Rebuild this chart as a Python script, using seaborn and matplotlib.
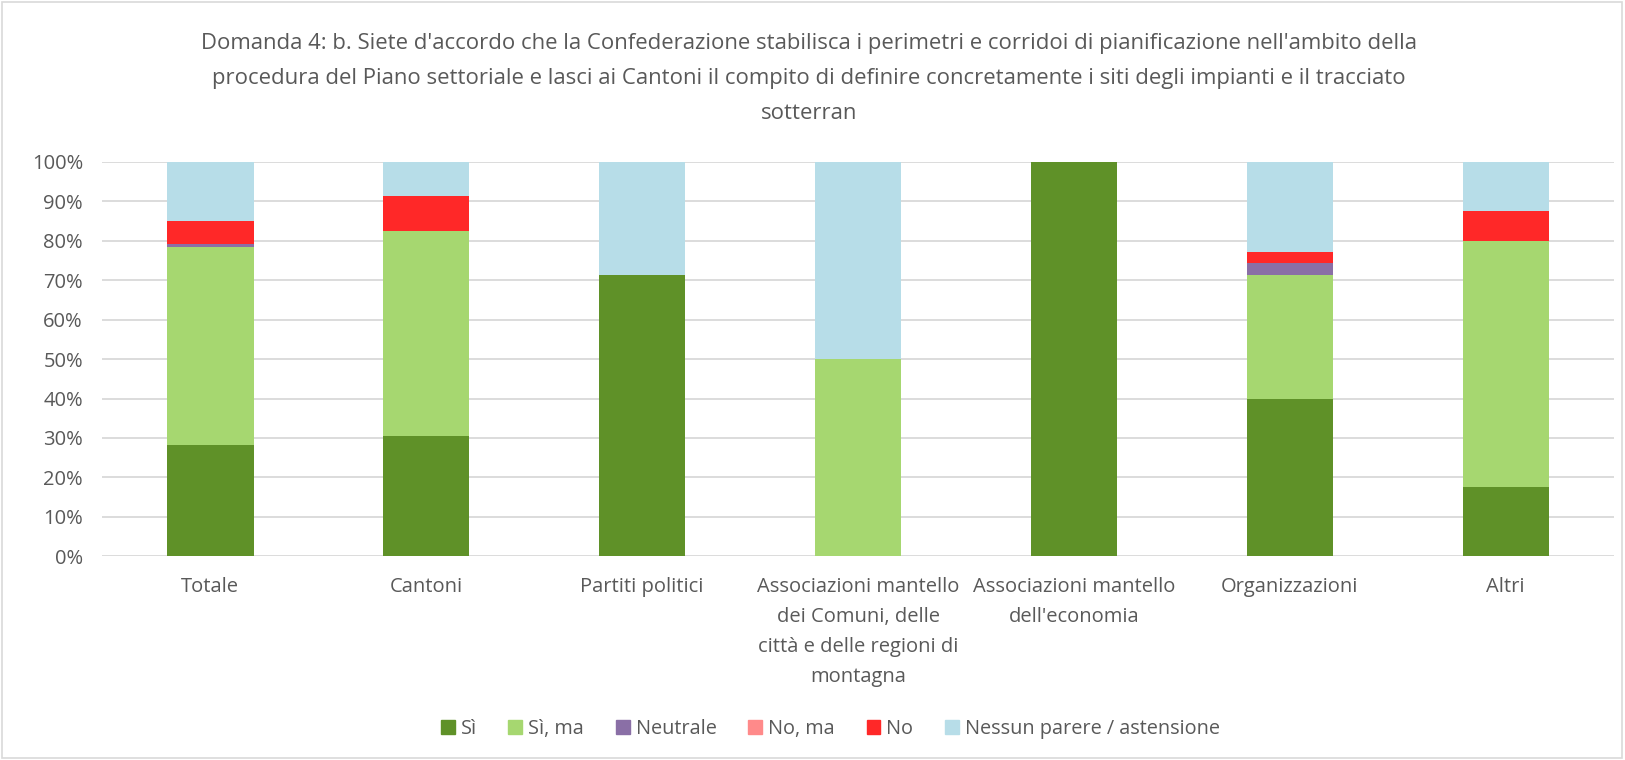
import pandas as pd
import matplotlib.pyplot as plt
import matplotlib.patches as mpatches
import seaborn as sns

# categories and answer shares (%)
categories = [
    "Totale",
    "Cantoni",
    "Partiti politici",
    "Associazioni mantello\ndei Comuni, delle\ncittà e delle regioni di\nmontagna",
    "Associazioni mantello\ndell'economia",
    "Organizzazioni",
    "Altri",
]
answers = ["Sì", "Sì, ma", "Neutrale", "No, ma", "No", "Nessun parere / astensione"]

si = [28.2, 30.4, 71.4, 0.0, 100.0, 40.0, 17.5]
si_ma = [50.3, 52.2, 0.0, 50.0, 0.0, 31.4, 62.5]
neutrale = [0.6, 0.0, 0.0, 0.0, 0.0, 2.9, 0.0]
no_ma = [0.0, 0.0, 0.0, 0.0, 0.0, 0.0, 0.0]
no = [5.9, 8.7, 0.0, 0.0, 0.0, 2.9, 7.5]
nessun = [15.0, 8.7, 28.6, 50.0, 0.0, 22.8, 12.5]

colors = ["#5F9128", "#A6D770", "#8A6FA6", "#FF8A8A", "#FF2828", "#B7DDE8"]
title = ("Domanda 4: b. Siete d'accordo che la Confederazione stabilisca i perimetri e corridoi di pianificazione nell'ambito della\n"
         "procedura del Piano settoriale e lasci ai Cantoni il compito di definire concretamente i siti degli impianti e il tracciato\n"
         "sotterran")

df = pd.DataFrame({"categoria": categories, "Sì": si, "Sì, ma": si_ma, "Neutrale": neutrale,
                   "No, ma": no_ma, "No": no, "Nessun parere / astensione": nessun})
cum = df[answers].cumsum(axis=1)
cum["categoria"] = df["categoria"]

sns.set_style("white")
plt.rcParams["font.family"] = ["Open Sans", "DejaVu Sans"]
text_color = "#595959"

fig = plt.figure(figsize=(16.25, 7.6), dpi=100)
ax = fig.add_axes([0.063, 0.268, 0.930, 0.519])

# stacked bars: draw cumulative heights from the top segment down
for ans, col in reversed(list(zip(answers, colors))):
    sns.barplot(data=cum, x="categoria", y=ans, color=col, width=0.4,
                saturation=1, ax=ax, zorder=3, linewidth=0)

ax.set_ylim(0, 100)
ax.set_xlim(-0.5, len(categories) - 0.5)
ax.set_yticks(range(0, 101, 10))
ax.set_yticklabels([f"{v}%" for v in range(0, 101, 10)])
ax.yaxis.grid(True, color="#D9D9D9", linewidth=1.3, zorder=0)
ax.set_axisbelow(True)
for s in ax.spines.values():
    s.set_visible(False)
ax.set_xlabel("")
ax.set_ylabel("")
ax.tick_params(axis="both", length=0, colors=text_color, labelsize=14.5)
ax.tick_params(axis="x", pad=15)
ax.tick_params(axis="y", pad=14)
for lbl in ax.get_xticklabels():
    lbl.set_linespacing(1.66)

fig.text(0.498, 0.957, title, ha="center", va="top", fontsize=15.9,
         color=text_color, linespacing=1.88)

handles = [mpatches.Patch(color=c, label=a) for a, c in zip(answers, colors)]
fig.legend(handles=handles, loc="center", bbox_to_anchor=(0.511, 0.041), ncol=6,
           frameon=False, fontsize=14.3, labelcolor=text_color, handlelength=0.7,
           handleheight=0.7, handletextpad=0.3, columnspacing=1.6)

fig.patches.append(mpatches.Rectangle((0.001, 0.002), 0.997, 0.996, transform=fig.transFigure,
                                      fill=False, edgecolor="#D9D9D9", linewidth=1.2))

plt.savefig("out.png", dpi=100)
